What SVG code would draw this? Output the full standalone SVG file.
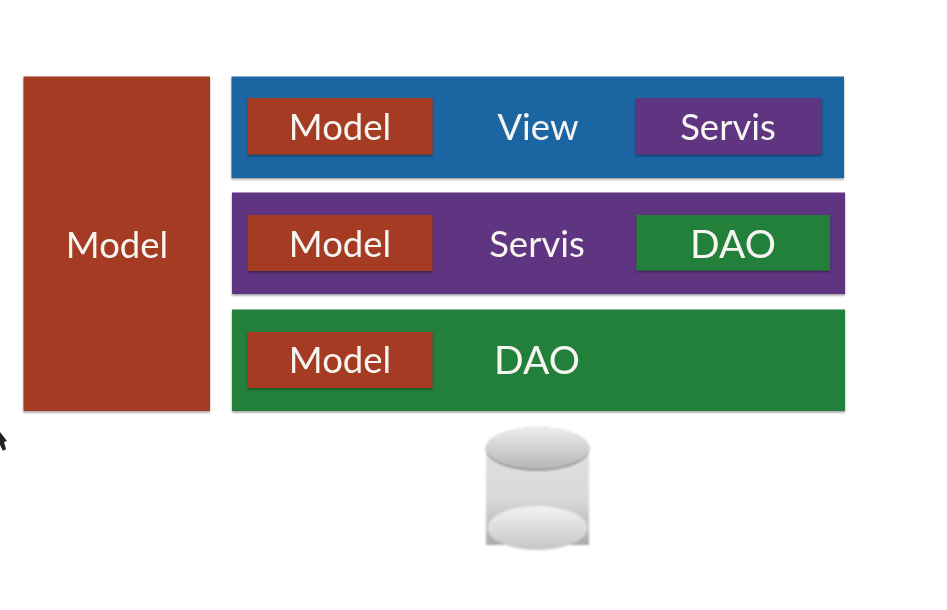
<svg xmlns="http://www.w3.org/2000/svg" width="947" height="610" viewBox="0 0 947 610">
<style>
.t{font-family:"Lato","Noto Sans",sans-serif;font-size:36.500px;fill:#f7f5f2;text-anchor:middle;filter:url(#soft)}
.d{font-size:39px}
.red{fill:#a43a20}.blue{fill:#1f65a3}.pur{fill:#5f3481}.grn{fill:#23803b}
.s{filter:url(#sh)}
</style>
<defs>
<filter id="sh" x="-5%" y="-10%" width="110%" height="125%"><feGaussianBlur in="SourceGraphic" stdDeviation=".4" result="b"/><feDropShadow in="b" dx="0" dy="1.5" stdDeviation="1.2" flood-color="#000" flood-opacity=".4"/></filter>
<filter id="soft" x="-5%" y="-10%" width="110%" height="120%"><feGaussianBlur stdDeviation=".45"/></filter>
<filter id="soft2" x="-5%" y="-5%" width="110%" height="110%"><feGaussianBlur stdDeviation=".8"/></filter>
<linearGradient id="body" x1="0" y1="0" x2="0" y2="1"><stop offset="0" stop-color="#e2e2e2"/><stop offset=".55" stop-color="#d8d8d8"/><stop offset="1" stop-color="#a9a9a9"/></linearGradient>
<linearGradient id="top" x1="0" y1="0" x2="0" y2="1"><stop offset="0" stop-color="#eeeeee"/><stop offset="1" stop-color="#b6b6b6"/></linearGradient>
<linearGradient id="bot" x1="0" y1="0" x2="0" y2="1"><stop offset="0" stop-color="#f2f2f2"/><stop offset="1" stop-color="#c6c6c6"/></linearGradient>
</defs>
<rect width="947" height="610" fill="#fff"/>
<g id="model-column"><rect class="red s" x="23.500" y="76.500" width="186.500" height="334.500"/><text class="t" x="117" y="257.500">Model</text></g>
<g id="view-layer"><rect class="blue s" x="231.500" y="76.500" width="612.500" height="101.500"/><text class="t" x="538" y="140">View</text></g>
<g id="servis-layer"><rect class="pur s" x="232" y="192.500" width="613" height="101.500"/><text class="t" x="537" y="257">Servis</text></g>
<g id="dao-layer"><rect class="grn s" x="232" y="309.500" width="613" height="101.500"/><text class="t d" x="537" y="374">DAO</text></g>
<g id="view-model"><rect class="red s" x="247.500" y="98" width="185" height="56.500"/><text class="t" x="340" y="140">Model</text></g>
<g id="view-servis"><rect class="pur s" x="635.500" y="98" width="186.500" height="56.500"/><text class="t" x="728" y="140">Servis</text></g>
<g id="servis-model"><rect class="red s" x="247.500" y="215" width="185" height="56"/><text class="t" x="340" y="257">Model</text></g>
<g id="servis-dao"><rect class="grn s" x="636.500" y="215" width="193.500" height="55.500"/><text class="t d" x="733" y="258">DAO</text></g>
<g id="dao-model"><rect class="red s" x="247.500" y="332" width="185" height="56"/><text class="t" x="340" y="373">Model</text></g>
<g id="database" filter="url(#soft2)">
<rect x="486" y="447" width="103" height="98" fill="url(#body)"/>
<ellipse cx="537.500" cy="449" rx="52" ry="22" fill="#8f8f8f"/>
<ellipse cx="537.500" cy="448" rx="52" ry="21" fill="url(#top)"/>
<ellipse cx="537.500" cy="528" rx="50" ry="22" fill="url(#bot)"/>
</g>
<polygon points="0,432 7,441 4,442 6,449 3,451 0,445" fill="#222" filter="url(#soft)"/>
<g id="connectors"/>
</svg>
